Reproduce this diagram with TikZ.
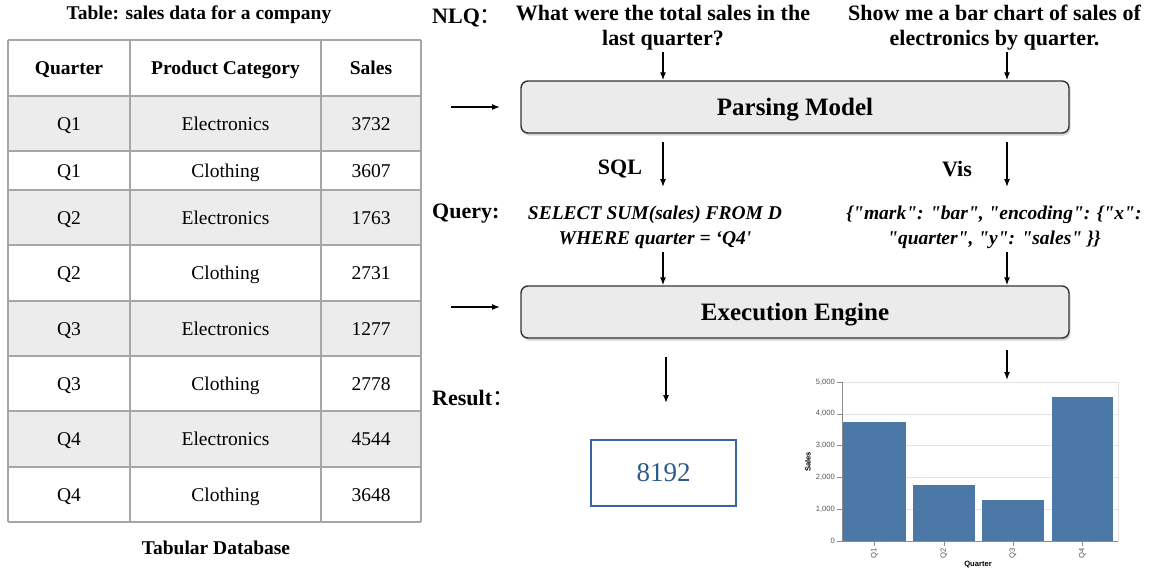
\documentclass[tikz,border=0pt]{standalone}
\usepackage{fontspec}
\setmainfont{Liberation Serif}
\newfontfamily\cjk{Noto Sans CJK SC}
\newfontfamily\chartfont{Liberation Sans}
\newfontfamily\codefam{Liberation Serif}[Ligatures=ResetAll]
\usetikzlibrary{arrows.meta, shadows}
\definecolor{tabline}{HTML}{A6A6A6}
\definecolor{tabshade}{HTML}{ECECEC}
\definecolor{boxfill}{HTML}{EBEBEB}
\definecolor{resline}{HTML}{3A62A7}
\definecolor{restext}{HTML}{2E5A8C}
\definecolor{barblue}{HTML}{4C78A8}
\definecolor{gridgray}{HTML}{E3E3E3}
\definecolor{axisgray}{HTML}{8C8C8C}
\definecolor{ticktext}{HTML}{555555}
\newcommand*{\cellfont}{\fontsize{19.5}{23}\selectfont}
\newcommand*{\labfont}{\fontsize{22}{25}\selectfont\bfseries}
\newcommand*{\boxfont}{\fontsize{25}{28}\selectfont\bfseries}
\newcommand*{\codefont}{\codefam\fontsize{19.5}{25}\selectfont\bfseries\itshape}
\newcommand*{\tickfont}{\chartfont\fontsize{7.6}{9}\selectfont}
% sales value -> y position of the chart
\newcommand*{\yS}[1]{541-#1*0.0318}

\begin{document}
\begin{tikzpicture}[x=1pt, y=-1pt,
	cell/.style={font=\cellfont, text height=13pt, text depth=0pt, inner sep=0pt},
	headcell/.style={cell, font=\cellfont\bfseries},
	tabrule/.style={draw=tabline, line width=1.6pt},
	stagebox/.style={draw=black!80, line width=1.4pt, rounded corners=7pt, fill=boxfill,
		minimum width=548pt, minimum height=52pt, font=\boxfont, text height=16.5pt, text depth=0pt,
		drop shadow={shadow xshift=1.5pt, shadow yshift=-2.5pt, opacity=0.35}},
	lab/.style={font=\labfont, anchor=west, inner sep=0pt},
	arr/.style={-{Latex[length=8pt,width=6pt]}, line width=1.3pt},
	tick/.style={font=\tickfont, text=ticktext, inner sep=1pt}]
	\useasboundingbox (0,0) rectangle (1151,571);

	% table
	\node[font=\cellfont\bfseries] (tabtitle) at (199,15) {Table: sales data for a company};
	\foreach \i/\q/\c/\s/\t/\b in {1/Q1/Electronics/3732/96/151, 2/Q1/Clothing/3607/151/190,
		3/Q2/Electronics/1763/190/245, 4/Q2/Clothing/2731/245/301, 5/Q3/Electronics/1277/301/356,
		6/Q3/Clothing/2778/356/411, 7/Q4/Electronics/4544/411/467, 8/Q4/Clothing/3648/467/522}
	{
		\ifodd\i \fill[tabshade] (8,\t) rectangle (421,\b); \fi
		\node[cell] (quarter\i) at (69,{(\t+\b)/2}) {\q};
		\node[cell] (category\i) at (225.5,{(\t+\b)/2}) {\c};
		\node[cell] (sales\i) at (371,{(\t+\b)/2}) {\s};
	}
	\node[headcell] (headq) at (69,68) {Quarter};
	\node[headcell] (headc) at (225.5,68) {Product Category};
	\node[headcell] (heads) at (371,68) {Sales};
	\foreach \y in {40,96,151,190,245,301,356,411,467,522}
		\draw[tabrule] (8,\y) -- (421,\y);
	\foreach \x in {8,130,321,421}
		\draw[tabrule] (\x,40) -- (\x,522);
	\node[font=\cellfont\bfseries] (tabname) at (216,548) {Tabular Database};

	% pipeline
	\node[lab] (nlqlab) at (432,18) {NLQ{\cjk\mdseries ：}};
	\node[font=\labfont, align=center] (nlqsql) at (663,28) {What were the total sales in the\\last quarter?};
	\node[font=\labfont, align=center] (nlqvis) at (994.5,28) {Show me a bar chart of sales of\\electronics by quarter.};
	\node[stagebox] (parse) at (795,107) {Parsing Model};
	\node[font=\labfont] (sqllab) at (620,169) {SQL};
	\node[font=\labfont] (vislab) at (957,169) {Vis};
	\node[lab] (querylab) at (432,214) {Query:};
	\node[font=\codefont, align=center] (sqlq) at (655,227) {SELECT SUM(sales) FROM D\\WHERE quarter = ‘Q4'};
	\node[font=\codefont, align=center] (visq) at (994,227) {\{"mark": "bar", "encoding": \{"x":\\"quarter", "y": "sales" \}\}};
	\node[stagebox] (exec) at (795,312) {Execution Engine};
	\node[lab] (resultlab) at (432,398) {Result{\cjk\mdseries ：}};
	\node[draw=resline, line width=1.5pt, minimum width=145pt, minimum height=66pt,
		font=\fontsize{27}{30}\selectfont, text=restext] (result) at (663.5,473) {8192};

	\coordinate (insql) at (663,52);
	\coordinate (invis) at (1007,52);
	\coordinate (intab1) at (451,107);
	\coordinate (intab2) at (451,307);
	\draw[arr] (insql) -- (insql |- parse.north);
	\draw[arr] (invis) -- (invis |- parse.north);
	\draw[arr] (intab1) -- (500,107);
	\draw[arr] (intab2) -- (500,307);
	\coordinate (outsql) at (663,142);
	\coordinate (outvis) at (1007,142);
	\draw[arr] (outsql) -- (663,187);
	\draw[arr] (outvis) -- (1007,187);
	\coordinate (qsql) at (663,252);
	\coordinate (qvis) at (1007,252);
	\draw[arr] (qsql) -- (qsql |- exec.north);
	\draw[arr] (qvis) -- (qvis |- exec.north);
	\coordinate (ressql) at (666,357);
	\coordinate (resvis) at (1007,350);
	\draw[arr] (ressql) -- (666,403);
	\draw[arr] (resvis) -- (1007,380);

	% bar chart
	\draw[gridgray, line width=0.6pt] (842,382) rectangle (1118,541);
	\foreach \v in {1000,2000,3000,4000}
		\draw[gridgray, line width=0.6pt] (842,{\yS{\v}}) -- (1118,{\yS{\v}});
	\foreach \i/\l/\r/\v in {1/843/906/3732, 2/913/975/1763, 3/982/1044/1277, 4/1052/1113/4544}
	{
		\fill[barblue] (\l,541) rectangle (\r,{\yS{\v}});
		\draw[axisgray, line width=0.6pt] ({(\l+\r)/2},541) -- ({(\l+\r)/2},546);
		\node[tick, rotate=90, anchor=east] (xq\i) at ({(\l+\r)/2},547) {Q\i};
	}
	\foreach \v/\t in {0/0,1000/{1,000},2000/{2,000},3000/{3,000},4000/{4,000},5000/{5,000}}
	{
		\draw[axisgray, line width=0.6pt] (837,{\yS{\v}}) -- (842,{\yS{\v}});
		\node[tick, anchor=east] at (836,{\yS{\v}}) {\t};
	}
	\draw[axisgray, line width=0.7pt] (842,382) -- (842,541) -- (1118,541);
	\node[tick, font=\tickfont\bfseries, text=black, rotate=90] (yname) at (808,462) {Sales};
	\node[tick, font=\tickfont\bfseries, text=black] (xname) at (978,565) {Quarter};
\end{tikzpicture}
\end{document}
